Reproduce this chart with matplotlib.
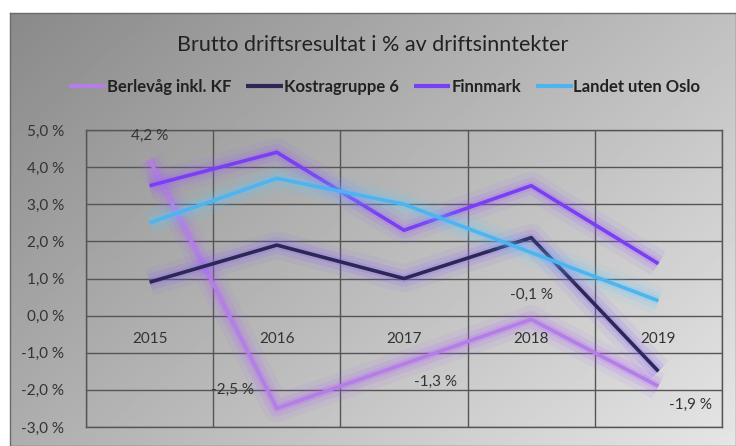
import numpy as np
import matplotlib.pyplot as plt
import matplotlib.patheffects as pe

years = ["2015", "2016", "2017", "2018", "2019"]
berlevag = [4.2, -2.5, -1.3, -0.1, -1.9]
kostra = [0.9, 1.9, 1.0, 2.1, -1.5]
finnmark = [3.5, 4.4, 2.3, 3.5, 1.4]
landet = [2.5, 3.7, 3.0, 1.7, 0.4]

series = [
    ("Berlevåg inkl. KF", berlevag, "#b47ee6", "#b060ff"),
    ("Kostragruppe 6", kostra, "#2b2856", "#8a5cff"),
    ("Finnmark", finnmark, "#7a3ff2", "#9a5cff"),
    ("Landet uten Oslo", landet, "#4db4f0", "#60c8ff"),
]

fig = plt.figure(figsize=(7.36, 4.46), dpi=100)
fig.patch.set_facecolor("white")

# gradient background frame
bg = fig.add_axes([10 / 736, 0, 1 - 10 / 736, (446 - 13) / 446])
yy, xx = np.mgrid[0:1:200j, 0:1:300j]
grad = 0.54 + 0.36 * (0.6 * xx + 0.4 * yy)
bg.imshow(grad, cmap="gray", vmin=0, vmax=1, aspect="auto",
          extent=[0, 1, 0, 1], origin="upper")
bg.set_xticks([])
bg.set_yticks([])
for s in bg.spines.values():
    s.set_color("#6a6a6a")
    s.set_linewidth(1.0)

ax = fig.add_axes([86 / 736, 19 / 446, (722 - 86) / 736, (427 - 130) / 446])
ax.set_facecolor("none")
x = np.arange(len(years))

for name, vals, col, glow in series:
    ax.plot(x, vals, color=col, lw=2.6, label=name, solid_capstyle="butt",
            path_effects=[pe.Stroke(linewidth=20, foreground=glow, alpha=0.08),
                          pe.Stroke(linewidth=12, foreground=glow, alpha=0.14),
                          pe.Stroke(linewidth=6, foreground=glow, alpha=0.2),
                          pe.Normal()])

ax.set_xlim(-0.5, 4.5)
ax.set_ylim(-3, 5)
ax.set_yticks(range(-3, 6))
ax.set_yticklabels([f"{v},0 %" for v in range(-3, 6)], fontsize=11,
                   color="#333333", family="Lato")
ax.set_xticks([-0.5, 0.5, 1.5, 2.5, 3.5, 4.5])
ax.set_xticklabels([])
ax.tick_params(length=0, pad=16)
ax.grid(True, color="#555555", lw=1.0)
ax.set_axisbelow(True)
for s in ax.spines.values():
    s.set_color("#555555")
    s.set_linewidth(1.0)

for i, yr in enumerate(years):
    ax.text(i, -0.62, yr, ha="center", va="center", fontsize=11,
            color="#333333", family="Lato")

# data labels for Berlevåg
lbl_pos = [(0, 4.85), (0.65, -2.0), (2.25, -1.78), (3, 0.55), (4.25, -2.4)]
for (lx, ly), v in zip(lbl_pos, berlevag):
    ax.text(lx, ly, f"{v:.1f} %".replace(".", ","), ha="center", va="center",
            fontsize=11, color="#333333", family="Lato")

fig.text(0.507, 0.9, "Brutto driftsresultat i % av driftsinntekter",
         ha="center", va="center", fontsize=15.5, color="#222222",
         family="Lato")

leg = fig.legend(loc="center", bbox_to_anchor=(0.523, 0.806), ncol=4,
                 frameon=False, handlelength=2.2, handletextpad=0.05,
                 columnspacing=0.9,
                 prop={"family": "Lato", "weight": "bold", "size": 12})
for line in leg.get_lines():
    line.set_path_effects([])
    line.set_linewidth(3)
for t in leg.get_texts():
    t.set_color("#222222")

fig.savefig("out.png", dpi=100)
